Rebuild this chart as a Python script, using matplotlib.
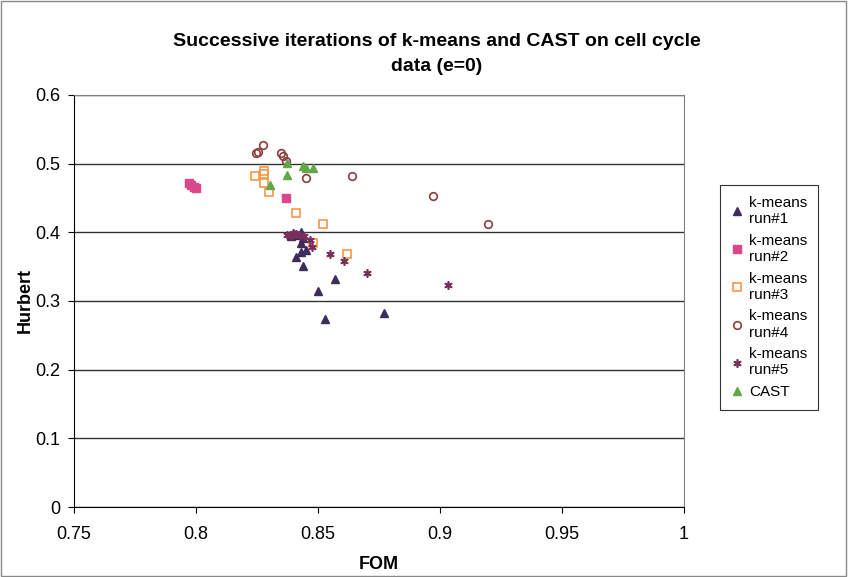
import matplotlib.pyplot as plt
from matplotlib.patches import Rectangle

# values
run1_x = [0.877, 0.853, 0.850, 0.857, 0.844, 0.841, 0.843, 0.845, 0.843, 0.844, 0.843, 0.840, 0.842, 0.839]
run1_y = [0.282, 0.274, 0.315, 0.332, 0.351, 0.364, 0.371, 0.374, 0.384, 0.392, 0.400, 0.398, 0.396, 0.394]

run2_x = [0.797, 0.798, 0.799, 0.800, 0.837]
run2_y = [0.472, 0.469, 0.466, 0.465, 0.450]

run3_x = [0.824, 0.828, 0.828, 0.828, 0.830, 0.841, 0.852, 0.848, 0.862]
run3_y = [0.482, 0.489, 0.485, 0.472, 0.459, 0.428, 0.412, 0.384, 0.368]

run4_x = [0.8245, 0.8255, 0.8275, 0.835, 0.8357, 0.837, 0.845, 0.864, 0.897, 0.9197]
run4_y = [0.5155, 0.517, 0.527, 0.516, 0.511, 0.504, 0.479, 0.482, 0.453, 0.412]

run5_x = [0.8373, 0.839, 0.8398, 0.841, 0.8426, 0.8443, 0.8467, 0.8475, 0.855, 0.8607, 0.870, 0.9033]
run5_y = [0.396, 0.394, 0.399, 0.397, 0.396, 0.395, 0.389, 0.379, 0.368, 0.358, 0.341, 0.323]

cast_x = [0.8303, 0.8373, 0.8373, 0.8439, 0.845, 0.848]
cast_y = [0.469, 0.4835, 0.501, 0.4966, 0.494, 0.494]

plt.rcParams['font.family'] = ['Liberation Sans', 'DejaVu Sans']

fig = plt.figure(figsize=(8.48, 5.77), dpi=100)
ax = fig.add_axes([0.0873, 0.1213, 0.7193, 0.7141])

ax.plot(run1_x, run1_y, ls='none', marker='^', ms=6, color='#3d2c5c', label='k-means\nrun#1')
ax.plot(run2_x, run2_y, ls='none', marker='s', ms=5.5, color='#d9488a', label='k-means\nrun#2')
ax.plot(run3_x, run3_y, ls='none', marker='s', ms=5.5, mfc='none', mec='#f79646', mew=1.2, label='k-means\nrun#3')
ax.plot(run4_x, run4_y, ls='none', marker='o', ms=5.5, mfc='none', mec='#8e3b3b', mew=1.2, label='k-means\nrun#4')
ax.plot(run5_x, run5_y, ls='none', marker=(6, 2, 0), ms=6, color='#7a2e5a', mew=1.2, label='k-means\nrun#5')
ax.plot(cast_x, cast_y, ls='none', marker='^', ms=6, color='#5fa845', label='CAST')

ax.set_xlim(0.75, 1.0)
ax.set_ylim(0, 0.6)
ax.set_xticks([0.75, 0.8, 0.85, 0.9, 0.95, 1.0])
ax.set_xticklabels(['0.75', '0.8', '0.85', '0.9', '0.95', '1'])
ax.set_yticks([0, 0.1, 0.2, 0.3, 0.4, 0.5, 0.6])
ax.set_yticklabels(['0', '0.1', '0.2', '0.3', '0.4', '0.5', '0.6'])
ax.yaxis.grid(True, color='#333333', lw=1)
ax.set_axisbelow(True)
ax.tick_params(labelsize=13, direction='out', length=4, color='black')
ax.tick_params(axis='x', pad=10)
ax.tick_params(axis='y', pad=6)
for side in ['top', 'right']:
    ax.spines[side].set_color('#808080')
for side in ['left', 'bottom']:
    ax.spines[side].set_color('black')

ax.set_xlabel('FOM', fontsize=13, fontweight='bold', labelpad=9)
ax.set_ylabel('Hurbert', fontsize=13, fontweight='bold', labelpad=1)

fig.text(0.515, 0.906, 'Successive iterations of k-means and CAST on cell cycle\ndata (e=0)',
         ha='center', va='center', fontsize=14, fontweight='bold', linespacing=1.6)

leg = fig.legend(loc='upper left', bbox_to_anchor=(0.849, 0.679), fontsize=11,
                 frameon=True, fancybox=False, edgecolor='black', handlelength=0.8,
                 handletextpad=0.4, labelspacing=0.5, borderpad=0.7, borderaxespad=0)
leg.get_frame().set_linewidth(0.8)

fig.patches.append(Rectangle((0.001, 0.001), 0.997, 0.997, transform=fig.transFigure,
                             fill=False, edgecolor='#888888', lw=1))

fig.savefig('out.png', dpi=100)
